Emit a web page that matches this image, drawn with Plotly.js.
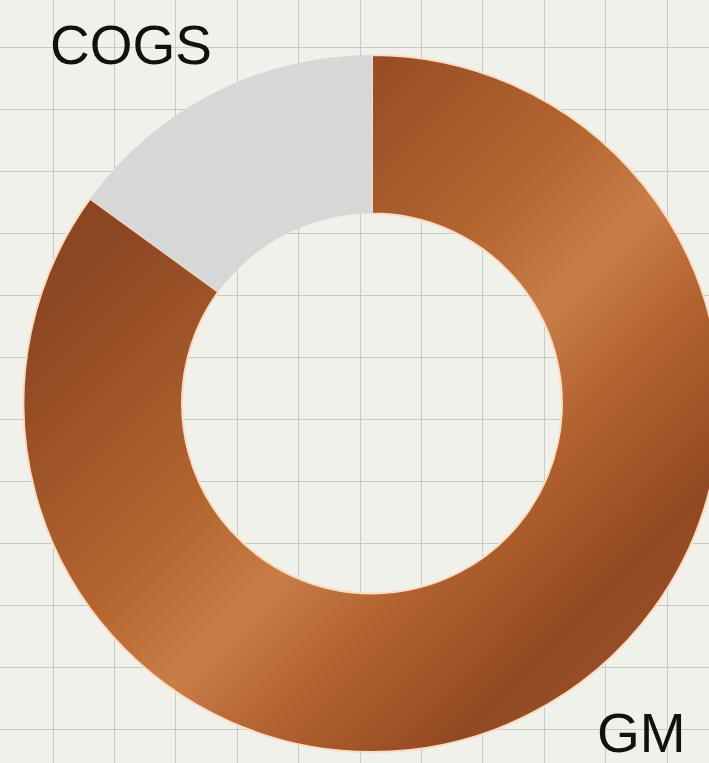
<!DOCTYPE html>
<html>
<head>
<meta charset="utf-8">
<script src="https://cdn.plot.ly/plotly-3.0.1.min.js"></script>
<style>
  html, body { margin: 0; padding: 0; overflow: hidden; background: #f1f1ec; }
  #chart { width: 744px; height: 763px; }
</style>
</head>
<body>
<div id="chart"></div>
<script>
// Data
const categories = ["GM", "COGS"];
const values = [85, 15];
const sliceColors = ["#a9592b", "#d7d7d7"];

const W = 744, H = 763;

const pie = {
  type: "pie",
  labels: categories,
  values: values,
  sort: false,
  direction: "clockwise",
  rotation: 0,
  hole: 0.545,
  textinfo: "none",
  hoverinfo: "skip",
  showlegend: false,
  marker: {
    colors: sliceColors,
    line: { color: ["#fbdcc3", "#d7d7d7"], width: [2, 0] }
  },
  domain: { x: [23.5 / W, 720.5 / W], y: [11 / H, 708 / H] }
};

const gridHolder = { type: "scatter", x: [], y: [], mode: "markers", hoverinfo: "skip", showlegend: false };

const layout = {
  width: W, height: H,
  margin: { l: 0, r: 0, t: 0, b: 0 },
  paper_bgcolor: "#f1f1ec",
  plot_bgcolor: "#f1f1ec",
  showlegend: false,
  xaxis: { range: [0, W], tick0: 53, dtick: 61.4, showgrid: true, gridcolor: "#c9cac5", gridwidth: 1,
           zeroline: false, showticklabels: false, ticks: "", showline: false, fixedrange: true },
  yaxis: { range: [H, 0], tick0: 47, dtick: 62, showgrid: true, gridcolor: "#c9cac5", gridwidth: 1,
           zeroline: false, showticklabels: false, ticks: "", showline: false, fixedrange: true },
  annotations: [
    { text: categories[1], x: 131, y: 45, xref: "x", yref: "y", showarrow: false,
      xanchor: "center", yanchor: "middle",
      font: { family: "Liberation Sans, Arial, sans-serif", size: 55, color: "#111111" } },
    { text: categories[0], x: 641, y: 733, xref: "x", yref: "y", showarrow: false,
      xanchor: "center", yanchor: "middle",
      font: { family: "Liberation Sans, Arial, sans-serif", size: 55, color: "#111111" } }
  ]
};

Plotly.newPlot("chart", [gridHolder, pie], layout, { staticPlot: true, displayModeBar: false }).then(function (gd) {
  const ns = "http://www.w3.org/2000/svg";
  const svg = gd.querySelector("svg.main-svg");
  let defs = svg.querySelector("defs");
  if (!defs) { defs = document.createElementNS(ns, "defs"); svg.insertBefore(defs, svg.firstChild); }
  const lg = document.createElementNS(ns, "linearGradient");
  lg.setAttribute("id", "copperGrad");
  lg.setAttribute("x1", "0"); lg.setAttribute("y1", "0");
  lg.setAttribute("x2", "1"); lg.setAttribute("y2", "1");
  const stops = [
    [0.0, "#864220"], [0.2, "#8d4722"], [0.32, "#a0552a"], [0.45, "#b4662f"],
    [0.56, "#c97d48"], [0.66, "#b2622f"], [0.8, "#924a23"], [1.0, "#a4572b"]
  ];
  stops.forEach(function (s) {
    const st = document.createElementNS(ns, "stop");
    st.setAttribute("offset", s[0]);
    st.setAttribute("stop-color", s[1]);
    lg.appendChild(st);
  });
  defs.appendChild(lg);
  gd.querySelectorAll("g.slice path.surface").forEach(function (p) {
    const f = (p.style.fill || "").replace(/\s/g, "");
    if (f === "rgb(169,89,43)") { p.style.fill = "url(#copperGrad)"; }
  });
});
</script>
</body>
</html>
